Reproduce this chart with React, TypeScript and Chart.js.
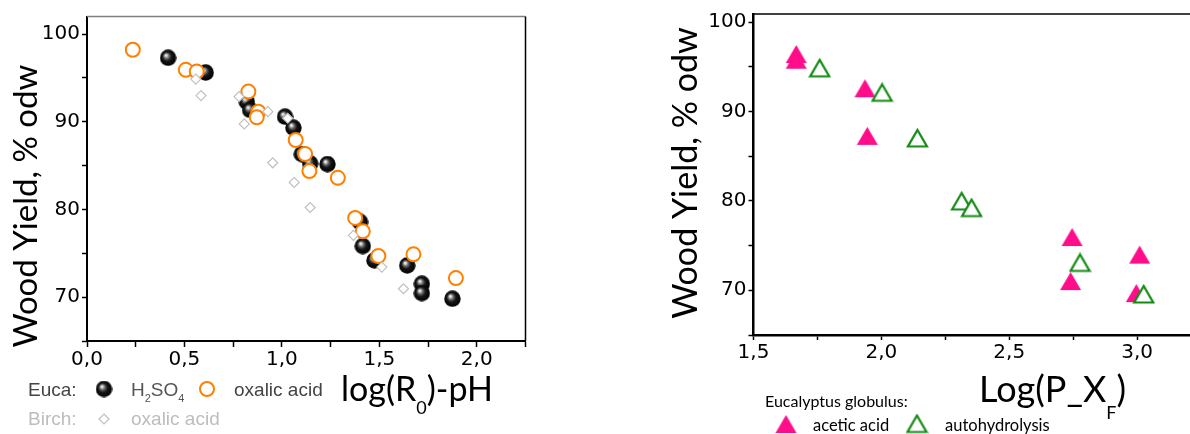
import React, { useEffect, useRef } from 'react';
import { Chart, registerables } from 'chart.js';
Chart.register(...registerables);

// ---------- Left panel data: Wood yield vs log(R0)-pH ----------
const eucaH2so4X = [0.416, 0.609, 0.820, 0.837, 1.016, 1.059, 1.102, 1.145, 1.234, 1.401, 1.415, 1.475, 1.643, 1.718, 1.718, 1.875];
const eucaH2so4Y = [97.29, 95.61, 92.29, 91.35, 90.58, 89.32, 86.32, 85.25, 85.17, 78.58, 75.83, 74.2, 73.62, 71.53, 70.46, 69.82];
const eucaOxalicX = [0.235, 0.507, 0.563, 0.828, 0.879, 0.871, 1.071, 1.119, 1.141, 1.287, 1.376, 1.415, 1.495, 1.675, 1.893];
const eucaOxalicY = [98.21, 95.92, 95.72, 93.44, 91.15, 90.51, 87.92, 86.32, 84.37, 83.61, 79.03, 77.51, 74.69, 74.88, 72.17];
const birchOxalicX = [0.558, 0.585, 0.78, 0.807, 0.928, 0.953, 1.03, 1.063, 1.145, 1.367, 1.513, 1.624];
const birchOxalicY = [94.86, 92.98, 92.87, 89.75, 91.15, 85.32, 90.4, 83.08, 80.22, 77.05, 73.43, 70.96];
const leftXTicks = [0, 0.25, 0.5, 0.75, 1, 1.25, 1.5, 1.75, 2, 2.25];
const leftYTicks = [65, 70, 75, 80, 85, 90, 95, 100];

// ---------- Right panel data: Wood yield vs Log(P_XF) ----------
const aceticX = [1.667, 1.667, 1.936, 1.945, 2.746, 2.74, 3.01, 2.997];
const aceticY = [96.42, 95.79, 92.6, 87.27, 75.96, 71.03, 73.99, 69.69];
const autoX = [1.759, 2.003, 2.141, 2.314, 2.353, 2.777, 3.026];
const autoY = [94.82, 92.09, 86.99, 79.94, 79.19, 73.06, 69.53];
const rightXTicks = [1.5, 1.75, 2, 2.25, 2.5, 2.75, 3, 3.25];
const rightYTicks = [65, 70, 75, 80, 85, 90, 95, 100];

const yLabelValues = [70, 80, 90, 100];

const TITLE_FONT = 'Lato, "DejaVu Sans", sans-serif';
const TICK_FONT = '"DejaVu Sans", sans-serif';
const LEG_FONT = '"Liberation Sans", Arial, sans-serif';

const ORANGE = '#ff8000';
const PINK = '#ff0d8a';
const GREEN = '#138a13';

const toPts = (xs: number[], ys: number[]) => xs.map((x, i) => ({ x, y: ys[i] }));
const fmt = (v: number) => v.toFixed(1).replace('.', ',');
const isHalf = (v: number) => Math.abs(v * 2 - Math.round(v * 2)) < 1e-9;

function makeSphere(d: number) {
  const c = document.createElement('canvas');
  c.width = d; c.height = d;
  const g = c.getContext('2d')!;
  const r = d / 2;
  const grad = g.createRadialGradient(r * 0.72, r * 0.68, 0, r, r, r);
  grad.addColorStop(0, '#ffffff');
  grad.addColorStop(0.12, '#dcdcdc');
  grad.addColorStop(0.32, '#666666');
  grad.addColorStop(0.55, '#151515');
  grad.addColorStop(1, '#000000');
  g.fillStyle = grad;
  g.beginPath(); g.arc(r, r, r - 0.3, 0, Math.PI * 2); g.fill();
  return c;
}

function makeTri(w: number, h: number, fill: string, stroke: string | null, lw: number) {
  const pad = 2;
  const c = document.createElement('canvas');
  c.width = Math.ceil(w + 2 * pad); c.height = Math.ceil(h + 2 * pad);
  const g = c.getContext('2d')!;
  g.beginPath();
  g.moveTo(pad + w / 2, pad);
  g.lineTo(pad + w, pad + h);
  g.lineTo(pad, pad + h);
  g.closePath();
  g.fillStyle = fill; g.fill();
  if (stroke) { g.lineWidth = lw; g.strokeStyle = stroke; g.lineJoin = 'miter'; g.stroke(); }
  return c;
}

type Part = { t: string; sub?: boolean };
function drawRich(ctx: CanvasRenderingContext2D, parts: Part[], x: number, y: number, size: number, subSize: number, subDy: number, family: string, color: string) {
  ctx.save();
  ctx.fillStyle = color; ctx.textAlign = 'left'; ctx.textBaseline = 'alphabetic';
  let cx = x;
  for (const p of parts) {
    ctx.font = `${p.sub ? subSize : size}px ${family}`;
    ctx.fillText(p.t, cx, p.sub ? y + subDy : y);
    cx += ctx.measureText(p.t).width;
  }
  ctx.restore();
}

function drawVertical(ctx: CanvasRenderingContext2D, text: string, bx: number, cy: number, font: string) {
  ctx.save();
  ctx.translate(bx, cy);
  ctx.rotate(-Math.PI / 2);
  ctx.font = font; ctx.fillStyle = '#000'; ctx.textAlign = 'center'; ctx.textBaseline = 'alphabetic';
  ctx.fillText(text, 0, 0);
  ctx.restore();
}

const LEFT_W = 560;
const RIGHT_OFF = 600;
const RIGHT_W = 615;
const H = 434;

export default function App() {
  const leftRef = useRef<HTMLCanvasElement>(null);
  const rightRef = useRef<HTMLCanvasElement>(null);

  useEffect(() => {
    const sphere = makeSphere(17);
    const pinkTri = makeTri(21, 18, PINK, null, 0);
    const greenTri = makeTri(19, 16.5, '#ffffff', GREEN, 2.2);

    const tickFont = { family: TICK_FONT, size: 20 };

    const leftPlugin = {
      id: 'leftDeco',
      afterDraw(chart: any) {
        const ctx: CanvasRenderingContext2D = chart.ctx;
        const a = chart.chartArea;
        ctx.save();
        ctx.strokeStyle = '#808080'; ctx.lineWidth = 1.5;
        ctx.beginPath(); ctx.moveTo(a.left, a.top); ctx.lineTo(a.right, a.top); ctx.stroke();
        ctx.strokeStyle = '#000'; ctx.lineWidth = 1.5;
        ctx.beginPath(); ctx.moveTo(a.right, a.top); ctx.lineTo(a.right, a.bottom); ctx.stroke();
        ctx.restore();
        drawVertical(ctx, 'Wood Yield, % odw', 37, 206, `33px ${TITLE_FONT}`);
        drawRich(ctx, [{ t: 'log(R' }, { t: '0', sub: true }, { t: ')-pH' }], 341, 401, 34, 18, 13, TITLE_FONT, '#000');
        // legend
        drawRich(ctx, [{ t: 'Euca:' }], 28, 396, 19, 11, 6, LEG_FONT, '#444');
        ctx.drawImage(sphere, 104 - 8.5, 389 - 8.5);
        drawRich(ctx, [{ t: 'H' }, { t: '2', sub: true }, { t: 'SO' }, { t: '4', sub: true }], 131, 396, 19, 11, 6, LEG_FONT, '#555');
        ctx.save();
        ctx.strokeStyle = ORANGE; ctx.lineWidth = 2;
        ctx.beginPath(); ctx.arc(207, 389, 7, 0, Math.PI * 2); ctx.stroke();
        ctx.restore();
        drawRich(ctx, [{ t: 'oxalic acid' }], 234, 396, 19, 11, 6, LEG_FONT, '#444');
        drawRich(ctx, [{ t: 'Birch:' }], 28, 425, 19, 11, 6, LEG_FONT, '#bdbdbd');
        ctx.save();
        ctx.strokeStyle = '#c0c0c0'; ctx.lineWidth = 1.2;
        ctx.beginPath(); ctx.moveTo(104, 414); ctx.lineTo(109, 419); ctx.lineTo(104, 424); ctx.lineTo(99, 419); ctx.closePath(); ctx.stroke();
        ctx.restore();
        drawRich(ctx, [{ t: 'oxalic acid' }], 131, 425, 19, 11, 6, LEG_FONT, '#bdbdbd');
      },
    };

    const left = new Chart(leftRef.current!, {
      type: 'scatter',
      data: {
        datasets: [
          { label: 'Birch oxalic acid', data: toPts(birchOxalicX, birchOxalicY), order: 0, pointStyle: 'rectRot', pointRadius: 5, pointBackgroundColor: '#ffffff', pointBorderColor: '#c0c0c0', pointBorderWidth: 1.2 },
          { label: 'Euca oxalic acid', data: toPts(eucaOxalicX, eucaOxalicY), order: 1, pointStyle: 'circle', pointRadius: 7, pointBackgroundColor: '#ffffff', pointBorderColor: ORANGE, pointBorderWidth: 2 },
          { label: 'Euca H2SO4', data: toPts(eucaH2so4X, eucaH2so4Y), order: 2, pointStyle: sphere as any, pointRadius: 8 },
        ],
      },
      options: {
        animation: false, responsive: false, devicePixelRatio: 1,
        layout: { padding: { left: 0, top: 16.5, right: LEFT_W - 525.5, bottom: 0 } },
        plugins: { legend: { display: false }, tooltip: { enabled: false } },
        scales: {
          x: {
            type: 'linear', min: 0, max: 2.25,
            afterBuildTicks: (s: any) => { s.ticks = leftXTicks.map((v) => ({ value: v })); },
            afterFit: (s: any) => { s.height = H - 341; },
            ticks: { callback: (v: any) => (isHalf(Number(v)) && Number(v) <= 2 ? fmt(Number(v)) : ''), font: tickFont, color: '#000', padding: 1, maxRotation: 0, autoSkip: false },
            grid: { display: true, drawOnChartArea: false, drawTicks: true, tickLength: 6, tickColor: '#000', tickWidth: 1.5 },
            border: { display: true, color: '#000', width: 2 },
          },
          y: {
            type: 'linear', min: 65, max: 102,
            afterBuildTicks: (s: any) => { s.ticks = leftYTicks.map((v) => ({ value: v })); },
            afterFit: (s: any) => { s.width = 87; },
            ticks: { callback: (v: any) => (yLabelValues.includes(Number(v)) ? String(v) : ''), font: tickFont, color: '#000', padding: 2, autoSkip: false },
            grid: { display: true, drawOnChartArea: false, drawTicks: true, tickLength: 5, tickColor: '#000', tickWidth: 1.5 },
            border: { display: true, color: '#000', width: 2 },
          },
        },
      },
      plugins: [leftPlugin],
    } as any);

    const L = (px: number) => px - RIGHT_OFF;
    const rightPlugin = {
      id: 'rightDeco',
      afterDraw(chart: any) {
        const ctx: CanvasRenderingContext2D = chart.ctx;
        const a = chart.chartArea;
        ctx.save();
        ctx.strokeStyle = '#000'; ctx.lineWidth = 1.5;
        ctx.beginPath(); ctx.moveTo(a.left, a.top); ctx.lineTo(a.right, a.top); ctx.stroke();
        ctx.beginPath(); ctx.moveTo(a.right, a.top); ctx.lineTo(a.right, a.bottom); ctx.stroke();
        ctx.restore();
        drawVertical(ctx, 'Wood Yield, % odw', L(697), 173, `34px ${TITLE_FONT}`);
        drawRich(ctx, [{ t: 'Log(P_X' }, { t: 'F', sub: true }, { t: ')' }], L(979), 402, 36, 18, 17, TITLE_FONT, '#000');
        drawRich(ctx, [{ t: 'Eucalyptus globulus:' }], L(765), 407, 16, 10, 5, TITLE_FONT, '#000');
        ctx.drawImage(pinkTri, L(786) - pinkTri.width / 2, 424 - pinkTri.height / 2);
        drawRich(ctx, [{ t: 'acetic acid' }], L(813), 431, 16.5, 10, 5, TITLE_FONT, '#000');
        ctx.drawImage(greenTri, L(917) - greenTri.width / 2, 424 - greenTri.height / 2);
        drawRich(ctx, [{ t: 'autohydrolysis' }], L(945), 431, 16.5, 10, 5, TITLE_FONT, '#000');
      },
    };

    const right = new Chart(rightRef.current!, {
      type: 'scatter',
      data: {
        datasets: [
          { label: 'autohydrolysis', data: toPts(autoX, autoY), order: 0, pointStyle: greenTri as any, pointRadius: 10 },
          { label: 'acetic acid', data: toPts(aceticX, aceticY), order: 1, pointStyle: pinkTri as any, pointRadius: 10 },
        ],
      },
      options: {
        animation: false, responsive: false, devicePixelRatio: 1,
        layout: { padding: { left: 0, top: 12.7, right: RIGHT_W - L(1201), bottom: 0 } },
        plugins: { legend: { display: false }, tooltip: { enabled: false } },
        scales: {
          x: {
            type: 'linear', min: 1.5, max: 3.25,
            afterBuildTicks: (s: any) => { s.ticks = rightXTicks.map((v) => ({ value: v })); },
            afterFit: (s: any) => { s.height = H - 335; },
            ticks: { callback: (v: any) => (isHalf(Number(v)) ? fmt(Number(v)) : ''), font: tickFont, color: '#000', padding: 1, maxRotation: 0, autoSkip: false },
            grid: { display: true, drawOnChartArea: false, drawTicks: true, tickLength: 5, tickColor: '#000', tickWidth: 1.5 },
            border: { display: true, color: '#000', width: 2.5 },
          },
          y: {
            type: 'linear', min: 65, max: 100.9,
            afterBuildTicks: (s: any) => { s.ticks = rightYTicks.map((v) => ({ value: v })); },
            afterFit: (s: any) => { s.width = L(753.5); },
            ticks: { callback: (v: any) => (yLabelValues.includes(Number(v)) ? String(v) : ''), font: tickFont, color: '#000', padding: 2, autoSkip: false },
            grid: { display: true, drawOnChartArea: false, drawTicks: true, tickLength: 5, tickColor: '#000', tickWidth: 1.5 },
            border: { display: true, color: '#000', width: 2.5 },
          },
        },
      },
      plugins: [rightPlugin],
    } as any);

    return () => { left.destroy(); right.destroy(); };
  }, []);

  return (
    <div style={{ position: 'fixed', left: 0, top: 0, width: 1190, height: H, overflow: 'hidden', background: '#fff' }}>
      <canvas ref={leftRef} width={LEFT_W} height={H} style={{ position: 'absolute', left: 0, top: 0, width: LEFT_W, height: H }} />
      <canvas ref={rightRef} width={RIGHT_W} height={H} style={{ position: 'absolute', left: RIGHT_OFF, top: 0, width: RIGHT_W, height: H }} />
    </div>
  );
}
